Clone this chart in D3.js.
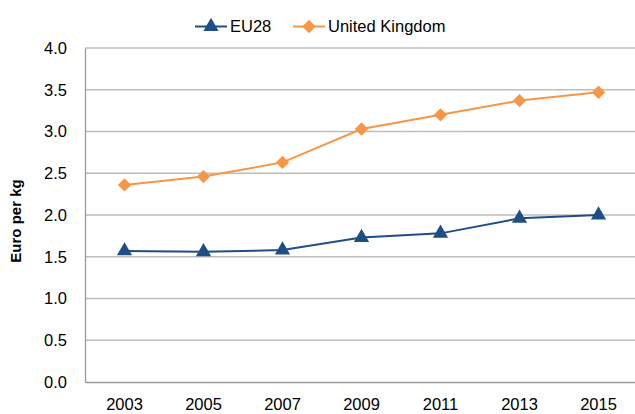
<!DOCTYPE html>
<html>
<head>
<meta charset="utf-8">
<script src="https://cdn.jsdelivr.net/npm/d3@7"></script>
<style>
  body { margin: 0; background: #fff; }
  text { font-family: "Liberation Sans", Arial, sans-serif; fill: #000; }
</style>
</head>
<body>
<div id="chart"></div>
<script>
// Données
const years = ["2003", "2005", "2007", "2009", "2011", "2013", "2015"];
const eu28 = [1.57, 1.56, 1.58, 1.73, 1.78, 1.96, 2.00];
const uk = [2.36, 2.46, 2.63, 3.03, 3.20, 3.37, 3.47];
const yTicks = [0, 0.5, 1, 1.5, 2, 2.5, 3, 3.5, 4];

const series = [
    { name: "EU28", values: eu28, color: "#1F4E85", symbol: d3.symbolTriangle, size: 100, rot: 0 },
    { name: "United Kingdom", values: uk, color: "#F79646", symbol: d3.symbolSquare, size: 88, rot: 45 }
];

const W = 635, H = 414;
const margin = { top: 48, right: -3, bottom: 32, left: 85 };
const width = W - margin.left - margin.right;
const height = H - margin.top - margin.bottom;

const root = d3.select("#chart").append("svg")
    .attr("width", W)
    .attr("height", H);

const svg = root.append("g")
    .attr("transform", `translate(${margin.left},${margin.top})`);

const x = d3.scaleBand().domain(years).range([0, width]);
const y = d3.scaleLinear().domain([0, 4]).range([height, 0]);

// Grille horizontale
svg.selectAll(".grid")
    .data(yTicks.filter(d => d > 0))
    .enter().append("line")
    .attr("x1", 0).attr("x2", width)
    .attr("y1", d => y(d)).attr("y2", d => y(d))
    .attr("stroke", "#BEBEBE").attr("stroke-width", 1.3);

// Axe Y
const yAxis = svg.append("g")
    .call(d3.axisLeft(y).tickValues(yTicks).tickFormat(d3.format(".1f")).tickSize(0).tickPadding(18));
yAxis.select(".domain").attr("stroke", "#9A9A9A").attr("stroke-width", 1.3);
yAxis.selectAll("text").style("font-size", "16.5px");

// Axe X
const xAxis = svg.append("g")
    .attr("transform", `translate(0,${height})`)
    .call(d3.axisBottom(x).tickSize(0).tickPadding(16));
xAxis.select(".domain").attr("stroke", "#9A9A9A").attr("stroke-width", 1.3);
xAxis.selectAll("text").style("font-size", "16.5px");

// Titre Y
root.append("text")
    .attr("transform", `translate(21,221) rotate(-90)`)
    .attr("text-anchor", "middle")
    .style("font-size", "15px")
    .style("font-weight", "bold")
    .text("Euro per kg");

// Séries
const line = d3.line()
    .x((d, i) => x(years[i]) + x.bandwidth() / 2)
    .y(d => y(d));

series.forEach(s => {
    svg.append("path")
        .datum(s.values)
        .attr("fill", "none")
        .attr("stroke", s.color)
        .attr("stroke-width", 2)
        .attr("d", line);

    svg.selectAll(null)
        .data(s.values)
        .enter().append("path")
        .attr("transform", (d, i) => `translate(${x(years[i]) + x.bandwidth() / 2},${y(d)}) rotate(${s.rot})`)
        .attr("d", d3.symbol().type(s.symbol).size(s.size))
        .attr("fill", s.color);
});

// Légende
const legendPos = [{ x: 195, tx: 230 }, { x: 293, tx: 328 }];
const legend = root.append("g").attr("transform", "translate(0,26.5)");
series.forEach((s, i) => {
    const g = legend.append("g");
    g.append("line")
        .attr("x1", legendPos[i].x).attr("x2", legendPos[i].x + 32)
        .attr("stroke", s.color).attr("stroke-width", 2);
    g.append("path")
        .attr("transform", `translate(${legendPos[i].x + 16},0) rotate(${s.rot})`)
        .attr("d", d3.symbol().type(s.symbol).size(s.size))
        .attr("fill", s.color);
    g.append("text")
        .attr("x", legendPos[i].tx)
        .attr("dy", "0.35em")
        .style("font-size", "16.5px")
        .text(s.name);
});
</script>
</body>
</html>
